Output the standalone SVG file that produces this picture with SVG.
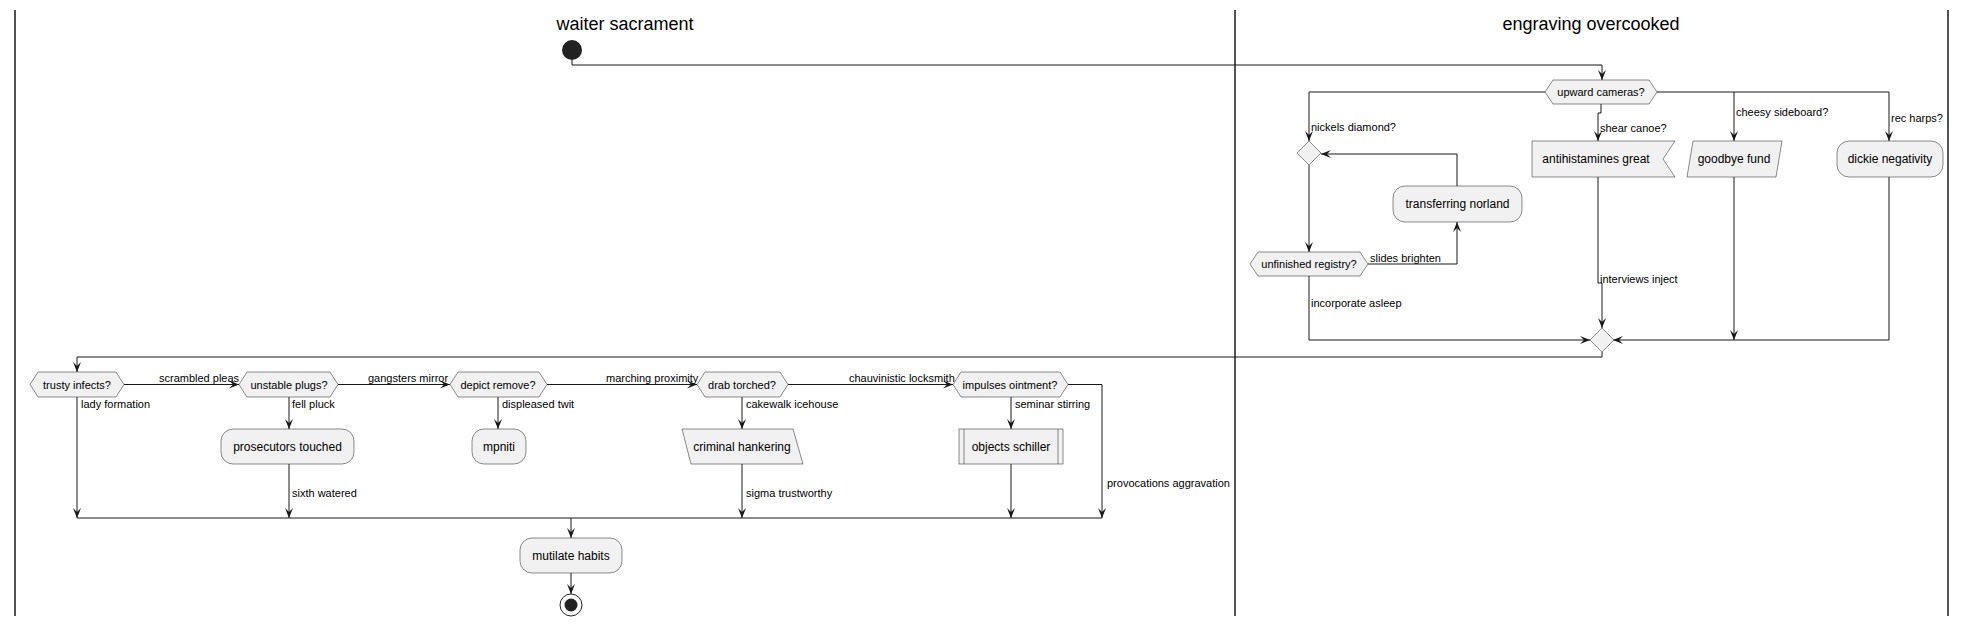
<svg xmlns="http://www.w3.org/2000/svg" width="1966" height="626" viewBox="0 0 1966 626">
<defs>
<style>
.lane{stroke:#181818;stroke-width:1.5;fill:none}
.title{font-family:"Liberation Sans",Arial,sans-serif;font-size:18px;fill:#000;text-anchor:middle}
.node{fill:#F1F1F1;stroke:#181818;stroke-width:0.5}
.nt{font-family:"Liberation Sans",Arial,sans-serif;font-size:12px;fill:#000;text-anchor:middle}
.ht{font-family:"Liberation Sans",Arial,sans-serif;font-size:11px;fill:#000;text-anchor:middle}
.edge{stroke:#181818;stroke-width:1;fill:none}
.arr{marker-end:url(#ah)}
.lbl{font-family:"Liberation Sans",Arial,sans-serif;font-size:11px;fill:#000}
</style>
<marker id="ah" viewBox="0 0 10 10" refX="10" refY="5" markerWidth="10" markerHeight="10" markerUnits="userSpaceOnUse" orient="auto">
<path d="M0,1 L10,5 L0,9 L4,5 Z" fill="#181818"/>
</marker>
</defs>
<rect width="1966" height="626" fill="#FFFFFF"/>
<g id="lanes">
<line class="lane" x1="15" y1="10" x2="15" y2="616"/>
<line class="lane" x1="1235" y1="10" x2="1235" y2="616"/>
<line class="lane" x1="1948" y1="10" x2="1948" y2="616"/>
<text class="title" x="625" y="30">waiter sacrament</text>
<text class="title" x="1591" y="30">engraving overcooked</text>
</g>
<g id="connectors">
<path class="edge arr" d="M572,60 V65 H1602 V80"/>
<path class="edge arr" d="M1545,92 H1309 V141"/>
<text class="lbl" x="1311" y="131">nickels diamond?</text>
<path class="edge arr" d="M1601,104 V113 H1598 V141"/>
<text class="lbl" x="1600" y="132">shear canoe?</text>
<path class="edge arr" d="M1657,92 H1734 V141"/>
<text class="lbl" x="1736" y="116">cheesy sideboard?</text>
<path class="edge arr" d="M1734,92 H1889 V141"/>
<text class="lbl" x="1891" y="122">rec harps?</text>
<path class="edge arr" d="M1309,165 V252"/>
<path class="edge arr" d="M1368,264 H1457 V222"/>
<text class="lbl" x="1370" y="262">slides brighten</text>
<path class="edge arr" d="M1457,186 V154 H1321"/>
<path class="edge arr" d="M1309,276 V340 H1590"/>
<text class="lbl" x="1311" y="307">incorporate asleep</text>
<path class="edge arr" d="M1598,177 V283 H1602 V328"/>
<text class="lbl" x="1600" y="283">interviews inject</text>
<path class="edge arr" d="M1734,177 V340"/>
<path class="edge arr" d="M1889,177 V340 H1613"/>
<path class="edge arr" d="M1602,352 V357 H77 V372"/>
<path class="edge arr" d="M124,384.5 H239"/>
<text class="lbl" x="159" y="382">scrambled pleas</text>
<path class="edge arr" d="M338,384.5 H450"/>
<text class="lbl" x="368" y="382">gangsters mirror</text>
<path class="edge arr" d="M547,384.5 H697"/>
<text class="lbl" x="606" y="382">marching proximity</text>
<path class="edge arr" d="M788,384.5 H953"/>
<text class="lbl" x="849" y="382">chauvinistic locksmith</text>
<path class="edge arr" d="M77,397 V518"/>
<text class="lbl" x="81" y="408">lady formation</text>
<path class="edge arr" d="M289,397 V429"/>
<text class="lbl" x="292" y="408">fell pluck</text>
<path class="edge arr" d="M289,464 V518"/>
<text class="lbl" x="292" y="497">sixth watered</text>
<path class="edge arr" d="M498,397 V429"/>
<text class="lbl" x="502" y="408">displeased twit</text>
<path class="edge arr" d="M742,397 V429"/>
<text class="lbl" x="746" y="408">cakewalk icehouse</text>
<path class="edge arr" d="M742,464 V518"/>
<text class="lbl" x="746" y="497">sigma trustworthy</text>
<path class="edge arr" d="M1011,397 V429"/>
<text class="lbl" x="1015" y="408">seminar stirring</text>
<path class="edge arr" d="M1011,464 V518"/>
<path class="edge arr" d="M1068,384.5 H1102 V518"/>
<text class="lbl" x="1107" y="487">provocations aggravation</text>
<path class="edge" d="M77,518 H1102"/>
<path class="edge arr" d="M571,518 V538"/>
<path class="edge arr" d="M571,573 V594"/>
</g>
<g id="start"><circle cx="572" cy="50" r="10" fill="#222222"/></g>
<g id="upward-cameras">
<polygon class="node" points="1545,92 1553,80 1649,80 1657,92 1649,104 1553,104"/>
<text class="ht" x="1601" y="96">upward cameras?</text>
</g>
<g id="loop-diamond"><polygon class="node" points="1309,141 1321,153 1309,165 1297,153"/></g>
<g id="transferring-norland">
<rect class="node" x="1393" y="186" width="129" height="36" rx="12"/>
<text class="nt" x="1457.5" y="208">transferring norland</text>
</g>
<g id="unfinished-registry">
<polygon class="node" points="1250,264 1258,252 1360,252 1368,264 1360,276 1258,276"/>
<text class="ht" x="1309" y="268">unfinished registry?</text>
</g>
<g id="antihistamines-great">
<polygon class="node" points="1532,141 1675,141 1663,159 1675,177 1532,177"/>
<text class="nt" x="1596" y="163">antihistamines great</text>
</g>
<g id="goodbye-fund">
<polygon class="node" points="1693,141 1782,141 1776,177 1687,177"/>
<text class="nt" x="1734" y="163">goodbye fund</text>
</g>
<g id="dickie-negativity">
<rect class="node" x="1837" y="141" width="106" height="36" rx="12"/>
<text class="nt" x="1890" y="163">dickie negativity</text>
</g>
<g id="merge-diamond"><polygon class="node" points="1602,328 1614,340 1602,352 1590,340"/></g>
<g id="trusty-infects">
<polygon class="node" points="30,384.5 38,372 116,372 124,384.5 116,397 38,397"/>
<text class="ht" x="77" y="388.5">trusty infects?</text>
</g>
<g id="unstable-plugs">
<polygon class="node" points="239,384.5 247,372 330,372 338,384.5 330,397 247,397"/>
<text class="ht" x="289" y="388.5">unstable plugs?</text>
</g>
<g id="depict-remove">
<polygon class="node" points="450,384.5 458,372 539,372 547,384.5 539,397 458,397"/>
<text class="ht" x="498" y="388.5">depict remove?</text>
</g>
<g id="drab-torched">
<polygon class="node" points="697,384.5 705,372 780,372 788,384.5 780,397 705,397"/>
<text class="ht" x="742" y="388.5">drab torched?</text>
</g>
<g id="impulses-ointment">
<polygon class="node" points="953,384.5 961,372 1060,372 1068,384.5 1060,397 961,397"/>
<text class="ht" x="1010" y="388.5">impulses ointment?</text>
</g>
<g id="prosecutors-touched">
<rect class="node" x="221" y="429" width="133" height="35" rx="12"/>
<text class="nt" x="287.5" y="450.5">prosecutors touched</text>
</g>
<g id="mpniti">
<rect class="node" x="472" y="429" width="54" height="35" rx="12"/>
<text class="nt" x="499" y="450.5">mpniti</text>
</g>
<g id="criminal-hankering">
<polygon class="node" points="682,429 793,429 803,464 691,464"/>
<text class="nt" x="742" y="450.5">criminal hankering</text>
</g>
<g id="objects-schiller">
<rect class="node" x="959" y="429" width="104" height="35"/>
<line class="node" x1="964" y1="429" x2="964" y2="464"/>
<line class="node" x1="1058" y1="429" x2="1058" y2="464"/>
<text class="nt" x="1011" y="450.5">objects schiller</text>
</g>
<g id="mutilate-habits">
<rect class="node" x="520" y="538" width="102" height="35" rx="12"/>
<text class="nt" x="571" y="559.5">mutilate habits</text>
</g>
<g id="end">
<circle cx="571" cy="605" r="11" fill="#FFFFFF" stroke="#222222" stroke-width="1"/>
<circle cx="571" cy="605" r="6.5" fill="#222222"/>
</g>
</svg>
